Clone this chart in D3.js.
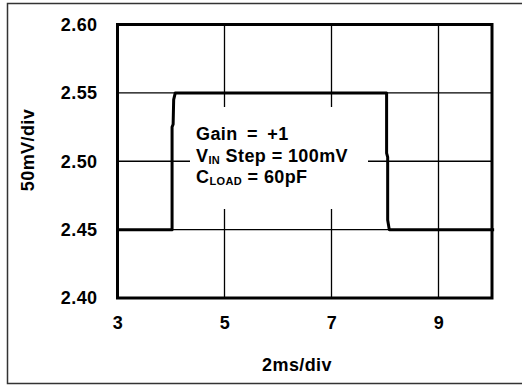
<!DOCTYPE html>
<html>
<head>
<meta charset="utf-8">
<script src="https://cdn.jsdelivr.net/npm/d3@7"></script>
<style>
  body { margin: 0; background: #fff; }
  svg { display: block; }
  text { font-family: "Liberation Sans", Arial, Helvetica, sans-serif; font-weight: bold; fill: #000; letter-spacing: 0.4px; }
</style>
</head>
<body>
<svg id="chart" width="522" height="385"></svg>
<script>
// Axis ticks (time in divisions, output in volts)
const xTickValues = [3, 5, 7, 9];
const yTickValues = [2.40, 2.45, 2.50, 2.55, 2.60];
const xGridValues = [5, 7, 9];
const yGridValues = [2.45, 2.50, 2.55];

// Output voltage step response trace
const traceTime  = [3, 4.02, 4.02, 4.04, 4.05, 4.08, 8.03, 8.03, 8.05, 8.05, 8.08, 10.04];
const traceVolts = [2.45, 2.45, 2.525, 2.527, 2.545, 2.55, 2.55, 2.506, 2.503, 2.457, 2.45, 2.45];

const svg = d3.select("#chart");
const plot = { left: 117.5, right: 492, top: 24.5, bottom: 298 };
const fs = 18;

const x = d3.scaleLinear().domain([3, 10]).range([plot.left, plot.right]);
const y = d3.scaleLinear().domain([2.40, 2.60]).range([plot.bottom, plot.top]);

// outer frame (open on the right)
svg.append("path")
  .attr("d", "M522,3.5 H7.5 V383.5 H522")
  .attr("fill", "none").attr("stroke", "#333").attr("stroke-width", 1.5);

// grid
const grid = svg.append("g").attr("stroke", "#000").attr("stroke-width", 1.3);
grid.selectAll("line.v").data(xGridValues).join("line")
  .attr("x1", d => x(d)).attr("x2", d => x(d))
  .attr("y1", plot.top).attr("y2", plot.bottom);
grid.selectAll("line.h").data(yGridValues).join("line")
  .attr("y1", d => y(d)).attr("y2", d => y(d))
  .attr("x1", plot.left).attr("x2", plot.right);

// white backing behind the annotation
svg.append("rect")
  .attr("x", 190).attr("y", 107).attr("width", 178).attr("height", 102)
  .attr("fill", "#fff");

// trace
const pts = traceTime.map((t, i) => [t, traceVolts[i]]);
svg.append("path")
  .datum(pts)
  .attr("fill", "none").attr("stroke", "#000").attr("stroke-width", 3)
  .attr("stroke-linejoin", "round")
  .attr("d", d3.line().x(d => x(d[0])).y(d => y(d[1])));

// plot border
svg.append("rect")
  .attr("x", plot.left).attr("y", plot.top)
  .attr("width", plot.right - plot.left).attr("height", plot.bottom - plot.top)
  .attr("fill", "none").attr("stroke", "#000").attr("stroke-width", 3);

// axes
const yAxis = svg.append("g")
  .attr("transform", `translate(${plot.left},0)`)
  .call(d3.axisLeft(y).tickValues(yTickValues).tickSize(0).tickPadding(20)
    .tickFormat(d3.format(".2f")));
yAxis.select(".domain").remove();
yAxis.attr("font-family", null).attr("font-size", fs);

const xAxis = svg.append("g")
  .attr("transform", `translate(0,${plot.bottom})`)
  .call(d3.axisBottom(x).tickValues(xTickValues).tickSize(0).tickPadding(18)
    .tickFormat(d3.format("d")));
xAxis.select(".domain").remove();
xAxis.attr("font-family", null).attr("font-size", fs);

// axis titles
svg.append("text")
  .attr("x", 297).attr("y", 371)
  .attr("text-anchor", "middle").attr("font-size", fs)
  .text("2ms/div");
svg.append("text")
  .attr("transform", "translate(34,150) rotate(-90)")
  .attr("text-anchor", "middle").attr("font-size", fs)
  .text("50mV/div");

// annotation
const note = svg.append("g").attr("font-size", fs);
note.append("text").attr("x", 196).attr("y", 140)
  .style("word-spacing", "4px").text("Gain = +1");
const l2 = note.append("text").attr("x", 196).attr("y", 161.5);
l2.append("tspan").text("V");
l2.append("tspan").attr("font-size", 11).attr("dy", 2).text("IN");
l2.append("tspan").attr("dy", -2).text(" Step = 100mV");
const l3 = note.append("text").attr("x", 196).attr("y", 183);
l3.append("tspan").text("C");
l3.append("tspan").attr("font-size", 11).attr("dy", 2).text("LOAD");
l3.append("tspan").attr("dy", -2).text(" = 60pF");
</script>
</body>
</html>
